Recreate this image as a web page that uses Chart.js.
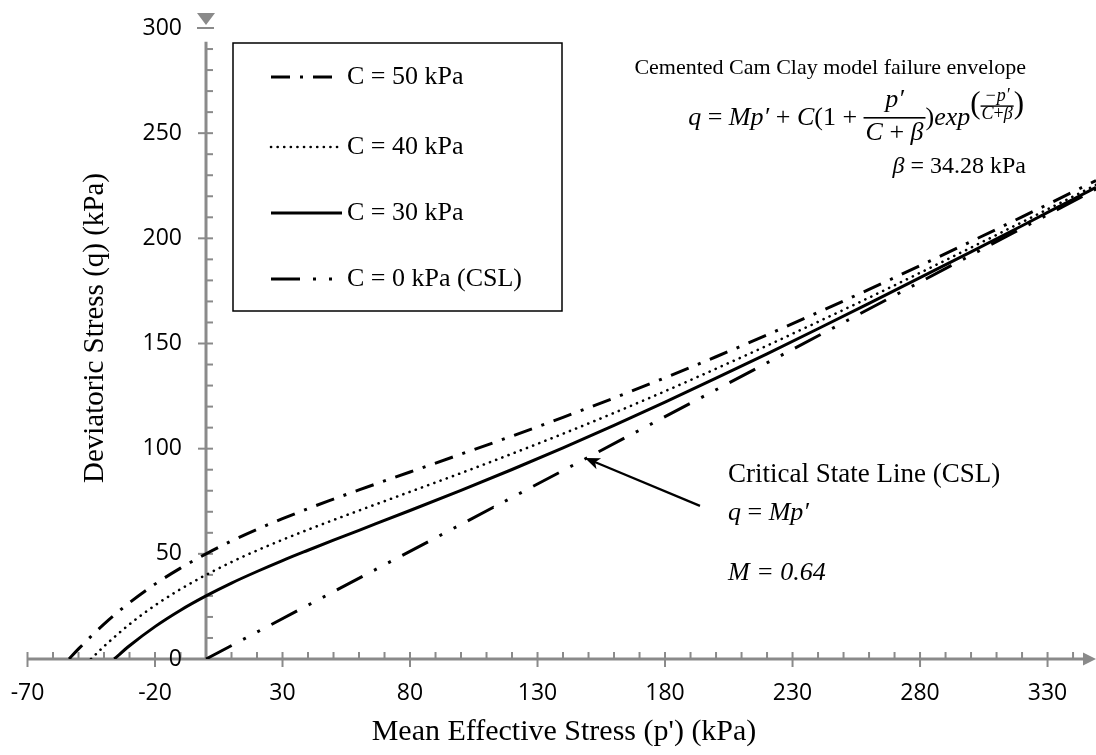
<!DOCTYPE html>
<html>
<head>
<meta charset="utf-8">
<title>Cemented Cam Clay failure envelope</title>
<script src="https://cdn.jsdelivr.net/npm/chart.js@4.4.1/dist/chart.umd.min.js"></script>
<style>
  html, body { margin: 0; padding: 0; background: #fff; }
  canvas { display: block; }
</style>
</head>
<body>
<canvas id="envelopeChart" width="1096" height="755"></canvas>
<script>
// values (kPa)
const seriesLabels = ['C = 50 kPa', 'C = 40 kPa', 'C = 30 kPa', 'C = 0 kPa (CSL)'];

const pC50 = [-53.7, -50, -40, -30, -20, -10, 0, 10, 20, 30, 40, 50, 60, 80, 100, 120, 140, 160, 180, 200, 220, 240, 260, 280, 300, 320, 340, 349];
const qC50 = [0, 4.8, 16.6, 26.8, 35.6, 43.2, 50, 56.1, 61.6, 66.7, 71.5, 76.0, 80.4, 88.9, 97.4, 106.0, 114.9, 124.1, 133.7, 143.7, 154.1, 164.8, 175.7, 187.0, 198.5, 210.2, 222.1, 227.5];

const pC40 = [-45.1, -40, -30, -20, -10, 0, 10, 20, 30, 40, 50, 60, 80, 100, 120, 140, 160, 180, 200, 220, 240, 260, 280, 300, 320, 340, 349];
const qC40 = [0, 6.0, 16.5, 25.5, 33.2, 40, 46.1, 51.6, 56.7, 61.5, 66.1, 70.6, 79.5, 88.4, 97.6, 107.1, 117.0, 127.3, 138.0, 149.0, 160.3, 171.8, 183.6, 195.6, 207.7, 219.9, 225.4];

const pC30 = [-36, -30, -20, -10, 0, 10, 20, 30, 40, 50, 60, 80, 100, 120, 140, 160, 180, 200, 220, 240, 260, 280, 300, 320, 340, 349];
const qC30 = [0, 6.3, 15.4, 23.2, 30, 36.1, 41.6, 46.8, 51.7, 56.5, 61.2, 70.6, 80.2, 90.1, 100.4, 111.1, 122.1, 133.5, 145.1, 157.0, 169.1, 181.3, 193.6, 206.0, 218.6, 224.2];

const pCSL = [0, 100, 200, 349];
const qCSL = [0, 64, 128, 223.4];

const xTickValues = [-70, -20, 30, 80, 130, 180, 230, 280, 330];
const yTickValues = [0, 50, 100, 150, 200, 250, 300];

const AXIS_GREY = '#8a8a8a';
const SERIF = '"Liberation Serif", "Times New Roman", serif';

function toPoints(ps, qs) {
    return ps.map((p, i) => ({ x: p, y: qs[i] }));
}

// axes cross at p = 0 and q = 0, with Excel style minor ticks and arrows
const crossAxes = {
    id: 'crossAxes',
    beforeDatasetsDraw(chart) {
        const ctx = chart.ctx;
        const xs = chart.scales.x, ys = chart.scales.y;
        const x0 = xs.getPixelForValue(0), y0 = ys.getPixelForValue(0);
        ctx.save();
        ctx.strokeStyle = AXIS_GREY;
        ctx.fillStyle = AXIS_GREY;

        // horizontal axis + arrow
        ctx.lineWidth = 3;
        ctx.beginPath();
        ctx.moveTo(xs.left, y0);
        ctx.lineTo(xs.right - 10, y0);
        ctx.stroke();
        ctx.beginPath();
        ctx.moveTo(xs.right, y0);
        ctx.lineTo(xs.right - 13, y0 - 6.5);
        ctx.lineTo(xs.right - 13, y0 + 6.5);
        ctx.closePath();
        ctx.fill();

        // vertical axis stops a bit under the top tick
        ctx.beginPath();
        ctx.moveTo(x0, y0);
        ctx.lineTo(x0, ys.getPixelForValue(293.5));
        ctx.stroke();

        ctx.lineWidth = 2;
        for (let v = xs.min; v <= 340; v += 10) {
            const px = xs.getPixelForValue(v);
            ctx.beginPath();
            if (xTickValues.includes(v)) {
                ctx.moveTo(px, y0 - 7); ctx.lineTo(px, y0 + 8);
            } else if (v !== 0) {
                ctx.moveTo(px, y0 - 7); ctx.lineTo(px, y0);
            }
            ctx.stroke();
        }
        for (let v = 10; v < 300; v += 10) {
            const py = ys.getPixelForValue(v);
            ctx.beginPath();
            if (yTickValues.includes(v)) {
                ctx.moveTo(x0 - 8, py); ctx.lineTo(x0 + 7, py);
            } else {
                ctx.moveTo(x0, py); ctx.lineTo(x0 + 7, py);
            }
            ctx.stroke();
        }
        // top tick with the down arrow above it
        const yTop = ys.getPixelForValue(300);
        ctx.beginPath();
        ctx.moveTo(x0 - 9, yTop); ctx.lineTo(x0 + 8, yTop);
        ctx.stroke();
        ctx.beginPath();
        ctx.moveTo(x0 - 9, yTop - 15);
        ctx.lineTo(x0 + 9, yTop - 15);
        ctx.lineTo(x0, yTop - 3);
        ctx.closePath();
        ctx.fill();

        // tick labels
        ctx.fillStyle = '#000';
        ctx.font = '23px "Open Sans"';
        ctx.textAlign = 'center';
        ctx.textBaseline = 'middle';
        xTickValues.forEach(v => ctx.fillText(String(v), xs.getPixelForValue(v), y0 + 34));
        ctx.textAlign = 'right';
        yTickValues.forEach(v => ctx.fillText(String(v), x0 - 24, ys.getPixelForValue(v)));

        // axis titles
        ctx.font = '30px ' + SERIF;
        ctx.textAlign = 'center';
        ctx.fillText("Mean Effective Stress (p') (kPa)", 564, 732);
        ctx.font = '29px ' + SERIF;
        ctx.save();
        ctx.translate(95, 328);
        ctx.rotate(-Math.PI / 2);
        ctx.fillText('Deviatoric Stress (q) (kPa)', 0, 0);
        ctx.restore();
        ctx.restore();
    }
};

function putRuns(ctx, runs, x, y) {
    for (const [t, f] of runs) {
        ctx.font = f;
        ctx.fillText(t, x, y);
        x += ctx.measureText(t).width;
    }
    return x;
}

function runsWidth(ctx, runs) {
    let w = 0;
    for (const [t, f] of runs) { ctx.font = f; w += ctx.measureText(t).width; }
    return w;
}

function drawEnvelopeFormula(ctx, rightX, axisY) {
    const it = 'italic 26px ' + SERIF, up = '26px ' + SERIF;
    const itS = 'italic 18px ' + SERIF, upS = '18px ' + SERIF;
    const paren = '31px ' + SERIF;
    const lead = [['q', it], [' = ', up], ['Mp′', it], [' + ', up], ['C', it], ['(1 + ', up]];
    const num = [['p′', it]];
    const den = [['C', it], [' + ', up], ['β', it]];
    const mid = [[')', up], ['exp', it]];
    const snum = [['−p′', itS]];
    const sden = [['C', itS], ['+', upS], ['β', itS]];
    const fracW = Math.max(runsWidth(ctx, num), runsWidth(ctx, den)) + 4;
    const sfracW = Math.max(runsWidth(ctx, snum), runsWidth(ctx, sden)) + 2;
    ctx.font = paren;
    const pw = ctx.measureText('(').width;
    const total = runsWidth(ctx, lead) + fracW + runsWidth(ctx, mid) + 2 * pw + sfracW;

    ctx.textAlign = 'left';
    ctx.textBaseline = 'alphabetic';
    let x = rightX - total;
    x = putRuns(ctx, lead, x, axisY + 7);
    ctx.fillRect(x, axisY - 1, fracW, 1.6);
    putRuns(ctx, num, x + (fracW - runsWidth(ctx, num)) / 2, axisY - 11);
    putRuns(ctx, den, x + (fracW - runsWidth(ctx, den)) / 2, axisY + 22);
    x += fracW;
    x = putRuns(ctx, mid, x, axisY + 7);
    const sAxis = axisY - 12;
    ctx.font = paren;
    ctx.fillText('(', x, sAxis + 7);
    x += pw;
    ctx.fillRect(x, sAxis - 0.6, sfracW, 1.4);
    putRuns(ctx, snum, x + (sfracW - runsWidth(ctx, snum)) / 2, sAxis - 5);
    putRuns(ctx, sden, x + (sfracW - runsWidth(ctx, sden)) / 2, sAxis + 13);
    x += sfracW;
    ctx.font = paren;
    ctx.fillText(')', x, sAxis + 7);
}

// legend box, formula text and the CSL call-out
const notes = {
    id: 'notes',
    afterDatasetsDraw(chart) {
        const ctx = chart.ctx;
        const xs = chart.scales.x, ys = chart.scales.y;
        ctx.save();

        // legend
        ctx.fillStyle = '#fff';
        ctx.fillRect(233, 43, 329, 268);
        ctx.strokeStyle = '#000';
        ctx.lineWidth = 1.5;
        ctx.strokeRect(233, 43, 329, 268);
        const rows = [77, 147, 213, 279];
        chart.data.datasets.forEach((ds, i) => {
            ctx.strokeStyle = ds.borderColor;
            ctx.lineWidth = ds.borderWidth;
            ctx.lineCap = ds.borderCapStyle || 'butt';
            ctx.setLineDash(ds.borderDash || []);
            ctx.beginPath();
            ctx.moveTo(271, rows[i]);
            ctx.lineTo(342, rows[i]);
            ctx.stroke();
            ctx.setLineDash([]);
            ctx.fillStyle = '#000';
            ctx.font = '26px ' + SERIF;
            ctx.textAlign = 'left';
            ctx.textBaseline = 'middle';
            ctx.fillText(ds.label, 347, rows[i]);
        });
        ctx.lineCap = 'butt';

        // model text, top right
        ctx.fillStyle = '#000';
        ctx.textAlign = 'right';
        ctx.textBaseline = 'middle';
        ctx.font = '22px ' + SERIF;
        ctx.fillText('Cemented Cam Clay model failure envelope', 1026, 68);
        drawEnvelopeFormula(ctx, 1024, 118);
        ctx.textAlign = 'right';
        ctx.textBaseline = 'middle';
        ctx.font = '24px ' + SERIF;
        const betaRest = ' = 34.28 kPa';
        const restW = ctx.measureText(betaRest).width;
        ctx.fillText(betaRest, 1026, 167);
        ctx.font = 'italic 24px ' + SERIF;
        ctx.fillText('β', 1026 - restW, 167);

        // CSL call-out
        ctx.textAlign = 'left';
        ctx.textBaseline = 'middle';
        ctx.font = '27px ' + SERIF;
        ctx.fillText('Critical State Line (CSL)', 728, 475);
        putRuns(ctx, [['q', 'italic 26px ' + SERIF], [' = ', '26px ' + SERIF], ['Mp′', 'italic 26px ' + SERIF]], 728, 513);
        ctx.font = 'italic 26px ' + SERIF;
        ctx.fillText('M = 0.64', 728, 573);

        // arrow pointing at the CSL
        const ax = xs.getPixelForValue(193.7), ay = ys.getPixelForValue(72.8);
        const tx = xs.getPixelForValue(148.6), ty = ys.getPixelForValue(95.6);
        const ang = Math.atan2(ty - ay, tx - ax);
        ctx.strokeStyle = '#000';
        ctx.lineWidth = 2.2;
        ctx.beginPath();
        ctx.moveTo(ax, ay);
        ctx.lineTo(tx - 10 * Math.cos(ang), ty - 10 * Math.sin(ang));
        ctx.stroke();
        ctx.fillStyle = '#000';
        ctx.beginPath();
        ctx.moveTo(tx, ty);
        ctx.lineTo(tx - 15 * Math.cos(ang) + 6 * Math.sin(ang), ty - 15 * Math.sin(ang) - 6 * Math.cos(ang));
        ctx.lineTo(tx - 11 * Math.cos(ang), ty - 11 * Math.sin(ang));
        ctx.lineTo(tx - 15 * Math.cos(ang) - 6 * Math.sin(ang), ty - 15 * Math.sin(ang) + 6 * Math.cos(ang));
        ctx.closePath();
        ctx.fill();
        ctx.restore();
    }
};

const lineBase = {
    showLine: true,
    pointRadius: 0,
    pointHoverRadius: 0,
    fill: false,
    borderColor: '#000',
    cubicInterpolationMode: 'monotone'
};

new Chart(document.getElementById('envelopeChart'), {
    type: 'scatter',
    data: {
        datasets: [
            Object.assign({}, lineBase, { label: seriesLabels[0], data: toPoints(pC50, qC50), borderWidth: 3, borderDash: [19, 10, 3, 10] }),
            Object.assign({}, lineBase, { label: seriesLabels[1], data: toPoints(pC40, qC40), borderWidth: 2.6, borderDash: [0.1, 6.5], borderCapStyle: 'round' }),
            Object.assign({}, lineBase, { label: seriesLabels[2], data: toPoints(pC30, qC30), borderWidth: 3 }),
            Object.assign({}, lineBase, { label: seriesLabels[3], data: toPoints(pCSL, qCSL), borderWidth: 3, borderDash: [29, 13, 3, 13, 3, 13] })
        ]
    },
    options: {
        responsive: false,
        devicePixelRatio: 1,
        animation: false,
        layout: { padding: { left: 27.5, right: 0, top: 28, bottom: 96 } },
        scales: {
            x: { type: 'linear', min: -70, max: 349, bounds: 'data', display: false },
            y: { type: 'linear', min: 0, max: 300, bounds: 'data', display: false }
        },
        plugins: {
            legend: { display: false },
            tooltip: { enabled: false }
        }
    },
    plugins: [crossAxes, notes]
});
</script>
</body>
</html>
